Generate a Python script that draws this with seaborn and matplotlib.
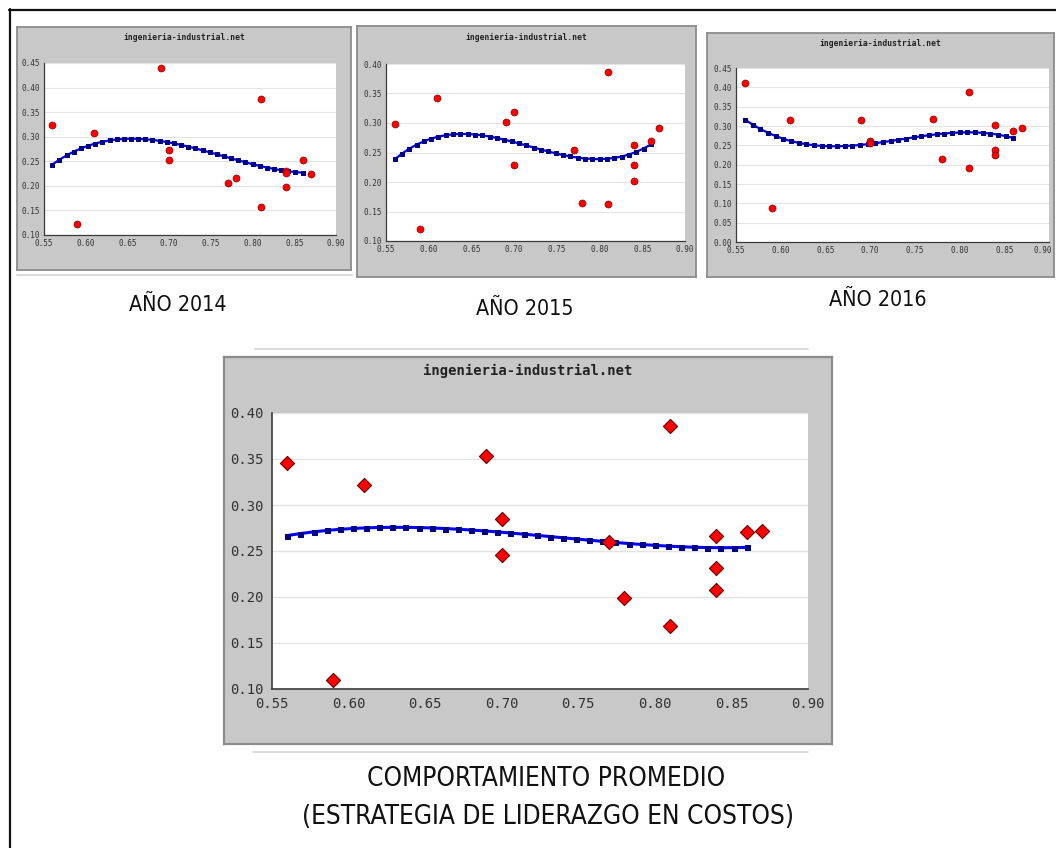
import numpy as np
import matplotlib
matplotlib.use("Agg")
import matplotlib.pyplot as plt
import seaborn as sns
from matplotlib.lines import Line2D
from matplotlib.ticker import MultipleLocator, FormatStrFormatter, FuncFormatter

sns.set_theme(style="white")
plt.rcParams["font.family"] = ["DejaVu Sans"]

W, H = 1056, 848

# Margen (eje X) compartido por todos los años
margen = [0.56, 0.59, 0.61, 0.69, 0.70, 0.70, 0.77, 0.78, 0.81, 0.81, 0.84, 0.84, 0.84, 0.86, 0.87]

# Indicador de costos por año
costos_2014 = [0.323, 0.123, 0.307, 0.439, 0.273, 0.253, 0.206, 0.215, 0.377, 0.156, 0.231, 0.227, 0.198, 0.252, 0.225]
costos_2015 = [0.299, 0.121, 0.343, 0.302, 0.319, 0.228, 0.254, 0.165, 0.386, 0.162, 0.263, 0.229, 0.202, 0.269, 0.292]
costos_2016 = [0.411, 0.089, 0.315, 0.315, 0.260, 0.256, 0.319, 0.214, 0.388, 0.191, 0.303, 0.239, 0.224, 0.287, 0.296]
costos_promedio = [0.346, 0.110, 0.322, 0.353, 0.285, 0.246, 0.260, 0.199, 0.386, 0.169, 0.266, 0.232, 0.208, 0.271, 0.272]

etiquetas = ["AÑO 2014", "AÑO 2015", "AÑO 2016"]
titulo_grafico = "ingenieria-industrial.net"
titulo_final = ["COMPORTAMIENTO PROMEDIO", "(ESTRATEGIA DE LIDERAZGO EN COSTOS)"]


def rect(x0, y0, x1, y1):
    return [x0 / W, 1 - y1 / H, (x1 - x0) / W, (y1 - y0) / H]


fig = plt.figure(figsize=(W / 100, H / 100), dpi=100)
fig.patch.set_facecolor("white")

paneles = [
    dict(y=costos_2014, ylim=(0.10, 0.45), caja=(17, 27, 351, 270), area=(44, 63, 336, 235),
         ty=38, fs_t=5.8, fs_k=5.5, ms=26, sq=2.2, lw=1.6, grande=False),
    dict(y=costos_2015, ylim=(0.10, 0.40), caja=(357, 26, 696, 277), area=(386, 64, 685, 241),
         ty=38, fs_t=5.8, fs_k=5.5, ms=26, sq=2.2, lw=1.6, grande=False),
    dict(y=costos_2016, ylim=(0.00, 0.45), caja=(707, 33, 1054, 277), area=(736, 68, 1049, 242),
         ty=43, fs_t=5.8, fs_k=5.5, ms=26, sq=2.2, lw=1.6, grande=False),
    dict(y=costos_promedio, ylim=(0.10, 0.40), caja=(224, 357, 832, 744), area=(272, 413, 808, 689),
         ty=371, fs_t=10, fs_k=10, ms=52, sq=3.6, lw=2.2, grande=True),
]

malla = np.linspace(0.56, 0.86, 36)

for i, p in enumerate(paneles):
    fondo = fig.add_axes(rect(*p["caja"]))
    fondo.set_facecolor("#c8c8c8")
    fondo.set_xticks([])
    fondo.set_yticks([])
    for s in fondo.spines.values():
        s.set_color("#8c8c8c")
        s.set_linewidth(1.6 if p["grande"] else 1.3)
    cx = (p["caja"][0] + p["caja"][2]) / 2
    fig.text(cx / W, 1 - p["ty"] / H, titulo_grafico, ha="center", va="center",
             family="DejaVu Sans Mono", fontweight="bold", fontsize=p["fs_t"], color="#222222")

    ax = fig.add_axes(rect(*p["area"]))
    ax.set_facecolor("white")
    ax.set_xlim(0.55, 0.90)
    ax.set_ylim(*p["ylim"])
    ax.yaxis.set_major_locator(MultipleLocator(0.05))
    ax.yaxis.set_minor_locator(MultipleLocator(0.01))
    ax.xaxis.set_major_locator(MultipleLocator(0.05))
    ax.xaxis.set_minor_locator(MultipleLocator(0.01))
    ax.yaxis.set_major_formatter(FormatStrFormatter("%.2f"))
    if i == 2:
        # el último rótulo del eje X va alineado a la derecha, junto al borde de la figura
        ax.xaxis.set_major_formatter(FuncFormatter(lambda v, _: "" if v > 0.895 else f"{v:.2f}"))
        ax.annotate("0.90", xy=(0.90, 0), xycoords=("data", "axes fraction"),
                    xytext=(2.5, -3), textcoords="offset points", ha="right", va="top",
                    family="DejaVu Sans Mono", fontsize=p["fs_k"], color="#333333")
    else:
        ax.xaxis.set_major_formatter(FormatStrFormatter("%.2f"))
    ax.grid(axis="y", which="major", color="#e4e4e4", lw=1.0 if p["grande"] else 0.8)
    ax.set_axisbelow(True)
    for nombre in ("top", "right"):
        ax.spines[nombre].set_visible(False)
    for nombre in ("left", "bottom"):
        ax.spines[nombre].set_color("#3a3a3a")
        ax.spines[nombre].set_linewidth(1.2 if p["grande"] else 0.9)
    ax.tick_params(axis="both", which="major", direction="in", length=5 if p["grande"] else 3.5,
                   width=1.0, color="#3a3a3a", labelsize=p["fs_k"], labelcolor="#333333",
                   pad=6 if p["grande"] else 3)
    ax.tick_params(axis="both", which="minor", direction="in", length=3 if p["grande"] else 2,
                   width=0.8, color="#3a3a3a")
    ax.tick_params(axis="y", which="minor", direction="out")
    for lab in ax.get_xticklabels() + ax.get_yticklabels():
        lab.set_family("DejaVu Sans Mono")

    # Línea de tendencia: ajuste polinómico de tercer grado
    coef = np.polyfit(margen, p["y"], 3)
    tendencia = np.polyval(coef, malla)
    sns.lineplot(x=malla, y=tendencia, ax=ax, color="#0000ff", lw=p["lw"], marker="s",
                 markersize=p["sq"], markerfacecolor="#000080", markeredgecolor="#000080",
                 zorder=2)

    sns.scatterplot(x=margen, y=p["y"], ax=ax, marker="D" if p["grande"] else "o",
                    color="#ff0000", edgecolor="#6a0000", linewidth=0.8 if p["grande"] else 0.4,
                    s=p["ms"], zorder=3)
    ax.set_xlabel("")
    ax.set_ylabel("")

# Rótulos de cada año
for texto, (x, y) in zip(etiquetas, [(178, 305), (525, 309), (878, 300)]):
    fig.text(x / W, 1 - y / H, texto, ha="center", va="center", fontsize=15.4,
             fontstretch="condensed", color="#111111")

fig.text(546 / W, 1 - 779 / H, titulo_final[0], ha="center", va="center", fontsize=18.8,
         fontstretch="condensed", color="#111111")
fig.text(548 / W, 1 - 817 / H, titulo_final[1], ha="center", va="center", fontsize=18.8,
         fontstretch="condensed", color="#111111")

# Marco exterior y líneas separadoras
fig.add_artist(Line2D([9.5 / W, 9.5 / W], [0, 1 - 9 / H], transform=fig.transFigure,
                      color="#111111", lw=1.6))
fig.add_artist(Line2D([9 / W, 1], [1 - 9.5 / H, 1 - 9.5 / H], transform=fig.transFigure,
                      color="#111111", lw=1.6))
for x0, x1, y in [(17, 352, 275), (255, 808, 349), (253, 808, 752)]:
    fig.add_artist(Line2D([x0 / W, x1 / W], [1 - y / H, 1 - y / H], transform=fig.transFigure,
                          color="#d4d4d4", lw=1.2))

fig.savefig("out.png", dpi=100)
